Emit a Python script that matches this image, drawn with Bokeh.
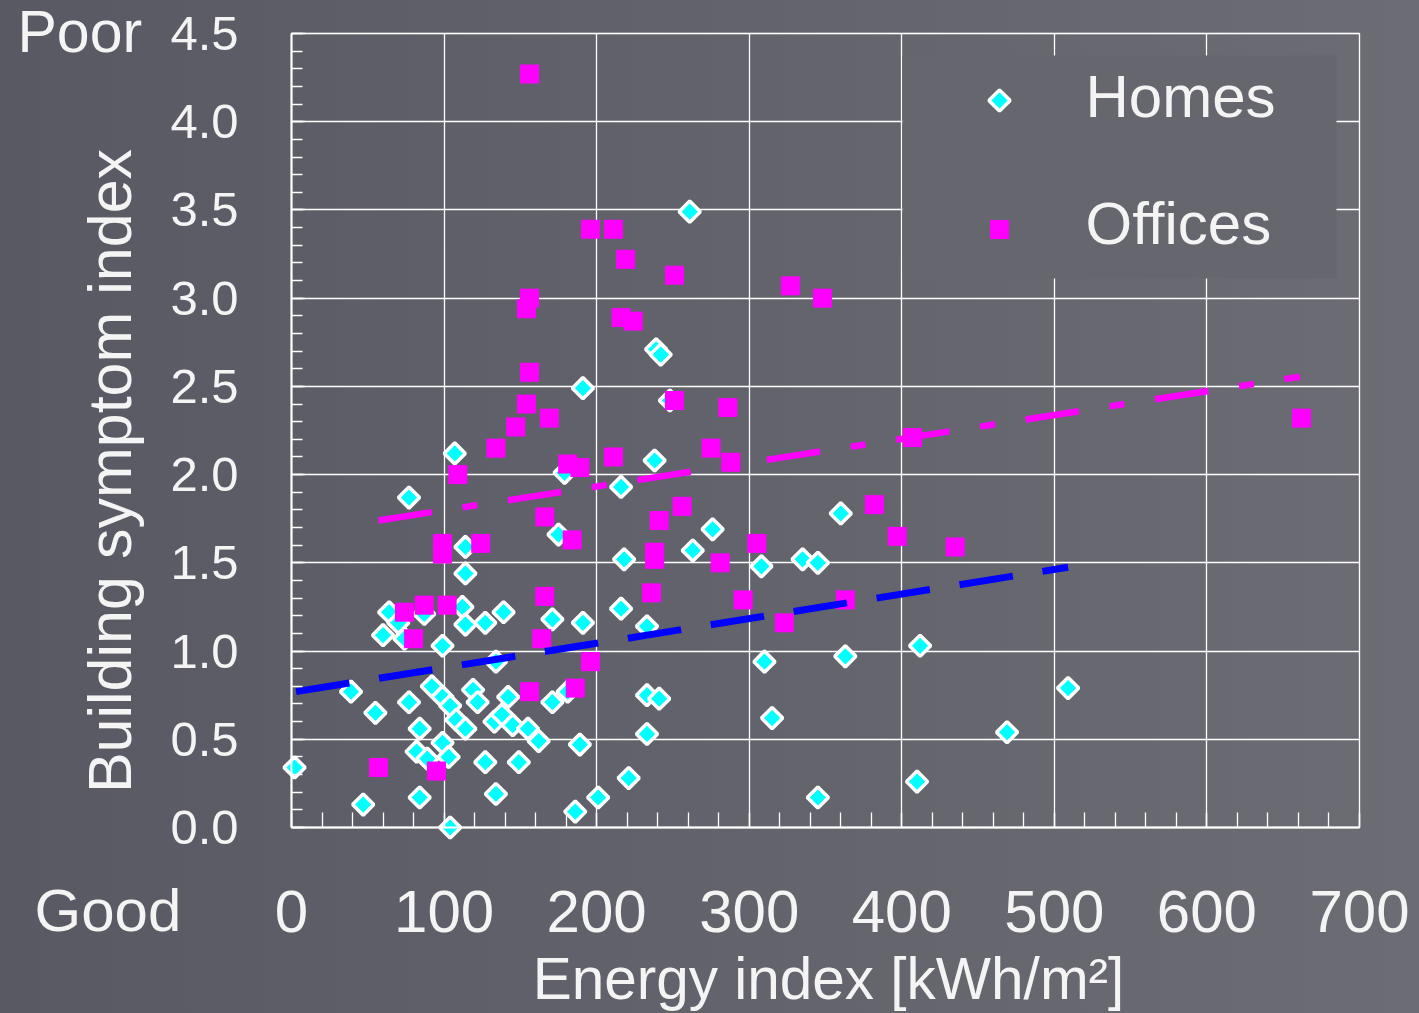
import numpy as np
from bokeh.plotting import figure
from bokeh.models import (Range1d, FixedTicker, Label, BoxAnnotation,
                          NumeralTickFormatter)
from bokeh.embed import file_html
from bokeh.resources import INLINE

# ---- data -------------------------------------------------------------
homes_x = [2, 39, 47, 55, 60, 64, 70, 74, 77, 77, 84, 82, 89, 84, 87, 92, 99,
           104, 108, 114, 99, 99, 103, 104, 114, 112, 114, 114, 107, 127, 139,
           119, 122, 127, 134, 134, 142, 133, 138, 145, 155, 162, 149, 171,
           171, 175, 179, 181, 189, 186, 191, 191, 201, 216, 216, 218, 221,
           233, 241, 233, 233, 238, 239, 242, 248, 261, 263, 276, 308, 310,
           315, 335, 345, 345, 360, 363, 410, 412, 469, 509]
homes_y = [0.34, 0.77, 0.13, 0.65, 1.09, 1.22, 1.16, 1.07, 1.87, 0.71, 0.56,
           0.43, 0.39, 0.17, 1.21, 0.80, 0.74, 0.69, 0.61, 0.56, 1.03, 0.48,
           0.40, 0.00, 1.44, 1.25, 1.15, 1.59, 2.12, 1.16, 1.22, 0.78, 0.71,
           0.37, 0.19, 0.94, 0.74, 0.60, 0.64, 0.58, 0.56, 0.49, 0.37, 0.71,
           1.18, 1.66, 2.01, 0.77, 0.47, 0.09, 1.16, 2.49, 0.17, 1.93, 1.24,
           1.52, 0.28, 0.75, 0.73, 0.53, 1.14, 2.08, 2.71, 2.68, 2.42, 3.49,
           1.57, 1.69, 1.48, 0.94, 0.62, 1.52, 1.50, 0.17, 1.78, 0.97, 0.26,
           1.03, 0.54, 0.79]

offices_x = [156, 196, 211, 219, 251, 327, 348, 156, 154, 216, 224, 156, 154,
             169, 147, 134, 251, 286, 275, 288, 211, 181, 189, 109, 256, 382,
             407, 662, 397, 435, 241, 238, 238, 281, 305, 166, 184, 124, 99,
             99, 236, 166, 296, 363, 323, 87, 102, 74, 80, 164, 196, 156, 186,
             57, 95]
offices_y = [4.27, 3.39, 3.39, 3.22, 3.13, 3.07, 3.00, 3.00, 2.94, 2.89, 2.87,
             2.58, 2.40, 2.32, 2.27, 2.15, 2.42, 2.38, 2.15, 2.07, 2.10, 2.06,
             2.04, 2.00, 1.82, 1.83, 2.21, 2.32, 1.65, 1.59, 1.74, 1.56, 1.52,
             1.50, 1.61, 1.76, 1.63, 1.61, 1.61, 1.55, 1.33, 1.31, 1.29, 1.29,
             1.16, 1.26, 1.26, 1.22, 1.07, 1.07, 0.94, 0.77, 0.79, 0.34, 0.32]

# linear trend lines (end points of each fit)
homes_trend_x = [3, 509]
homes_trend_y = [0.77, 1.475]
offices_trend_x = [57, 661]
offices_trend_y = [1.74, 2.555]

x_ticks = [0, 100, 200, 300, 400, 500, 600, 700]
x_minor_ticks = list(range(0, 701, 20))
y_ticks = [0.0, 0.5, 1.0, 1.5, 2.0, 2.5, 3.0, 3.5, 4.0, 4.5]
y_minor_ticks = [round(i * 0.1, 1) for i in range(46)]

series_labels = ["Homes", "Offices"]

# ---- layout (canvas pixels) -------------------------------------------
FONT = "Liberation Sans"
TEXT = "#f4f4f4"
W, H = 1419, 1013
BOX_L, BOX_R, BOX_T, BOX_B = 291, 1359, 33, 827     # where the axes box sits
X_MIN, X_MAX = x_ticks[0], x_ticks[-1]
Y_MIN, Y_MAX = y_ticks[0], y_ticks[-1]

# the frame fills the whole canvas; the ranges are widened so that the
# axes box lands at the pixel position above
kx = (BOX_R - BOX_L) / (X_MAX - X_MIN)
ky = (BOX_B - BOX_T) / (Y_MAX - Y_MIN)
x_range = Range1d(X_MIN - BOX_L / kx, X_MAX + (W - BOX_R) / kx)
y_range = Range1d(Y_MIN - (H - BOX_B) / ky, Y_MAX + BOX_T / ky)


def data_x(px):
    return x_range.start + px / kx


def data_y(py):
    return y_range.start + (H - py) / ky


p = figure(width=W, height=H, x_range=x_range, y_range=y_range,
           output_backend="svg", toolbar_location=None,
           min_border=0, min_border_left=0, min_border_right=0,
           min_border_top=0, min_border_bottom=0)
p.background_fill_alpha = 0
p.border_fill_alpha = 0
p.outline_line_color = None
p.styles = {"background": "linear-gradient(to right, #585963, #6c6c74)"}

# ---- axes, ticks, grid ------------------------------------------------
p.xaxis.ticker = FixedTicker(ticks=x_ticks, minor_ticks=x_minor_ticks)
p.yaxis.ticker = FixedTicker(ticks=y_ticks, minor_ticks=y_minor_ticks)
p.yaxis.formatter = NumeralTickFormatter(format="0.0")
p.xaxis.fixed_location = Y_MIN
p.yaxis.fixed_location = X_MIN
p.xaxis.bounds = (X_MIN, X_MAX)
p.yaxis.bounds = (Y_MIN, Y_MAX)

for ax in (p.xaxis[0], p.yaxis[0]):
    ax.axis_line_color = "white"
    ax.axis_line_width = 2
    ax.major_tick_line_color = "white"
    ax.major_tick_line_width = 1.3
    ax.major_tick_out = 0
    ax.major_tick_in = 14
    ax.minor_tick_line_color = "white"
    ax.minor_tick_line_width = 1.3
    ax.minor_tick_out = 0
    ax.major_label_text_color = TEXT
    ax.major_label_text_font = FONT

p.xaxis.minor_tick_in = 15
p.yaxis.minor_tick_in = 11
p.xaxis.major_label_text_font_size = "60px"
p.xaxis.major_label_standoff = 63
p.yaxis.major_label_text_font_size = "49px"
p.yaxis.major_label_standoff = 53

p.xgrid.bounds = (X_MIN, X_MAX)
p.xgrid.cross_bounds = (Y_MIN, Y_MAX)
p.ygrid.bounds = (Y_MIN, Y_MAX)
p.ygrid.cross_bounds = (X_MIN, X_MAX)
p.grid.grid_line_color = "white"
p.grid.grid_line_width = 1.3

# outline of the axes box
p.add_layout(BoxAnnotation(left=X_MIN, right=X_MAX, bottom=Y_MIN, top=Y_MAX,
                           fill_alpha=0, line_color="white", line_width=1.3))

# legend panel (hides the grid behind the keys)
p.add_layout(BoxAnnotation(left=902, right=1336, top=H - 55, bottom=H - 278,
                           left_units="screen", right_units="screen",
                           top_units="screen", bottom_units="screen",
                           fill_color="#66666e", fill_alpha=1,
                           line_color=None, level="underlay"))

# ---- marks ------------------------------------------------------------
HOME_STYLE = dict(marker="square", angle=np.pi / 4, size=15,
                  fill_color="#00ffff", line_color="white", line_width=3.5)
OFFICE_STYLE = dict(marker="square", size=19, fill_color="#ff00ff",
                    line_color=None)

p.scatter(homes_x, homes_y, **HOME_STYLE)
p.scatter(offices_x, offices_y, **OFFICE_STYLE)
p.line(homes_trend_x, homes_trend_y, line_color="#0000ff", line_width=7,
       line_dash="54 30")
p.line(offices_trend_x, offices_trend_y, line_color="#ff00ff", line_width=6.5,
       line_dash="54 31 15 31")

# legend keys and labels
p.scatter([data_x(999)], [data_y(100)], **HOME_STYLE)
p.scatter([data_x(999)], [data_y(229)], **OFFICE_STYLE)


def add_text(txt, x, y, size, align="left", angle=0.0):
    """x, y: canvas pixels from the top-left corner, y is the baseline."""
    px = float(size.rstrip("px"))
    mid = y - 0.37 * px          # vertical middle of the text line
    if angle:
        x, mid = x - 0.37 * px, y
    p.add_layout(Label(x=x, y=H - mid, x_units="screen", y_units="screen",
                       text=txt, text_font=FONT, text_font_size=size,
                       text_color=TEXT, text_align=align,
                       text_baseline="middle", angle=angle))


add_text(series_labels[0], 1085, 118, "60px")
add_text(series_labels[1], 1085, 245, "60px")

# ---- outer texts ------------------------------------------------------
add_text("Poor", 17, 53, "59px")
add_text("Good", 34, 932, "60px")
add_text("Building symptom index", 132, 470.5, "61px", align="center",
         angle=np.pi / 2)
add_text("Energy index [kWh/m²]", 828, 1000, "58.5px", align="center")

open("out.html", "w").write(file_html(p, INLINE))
